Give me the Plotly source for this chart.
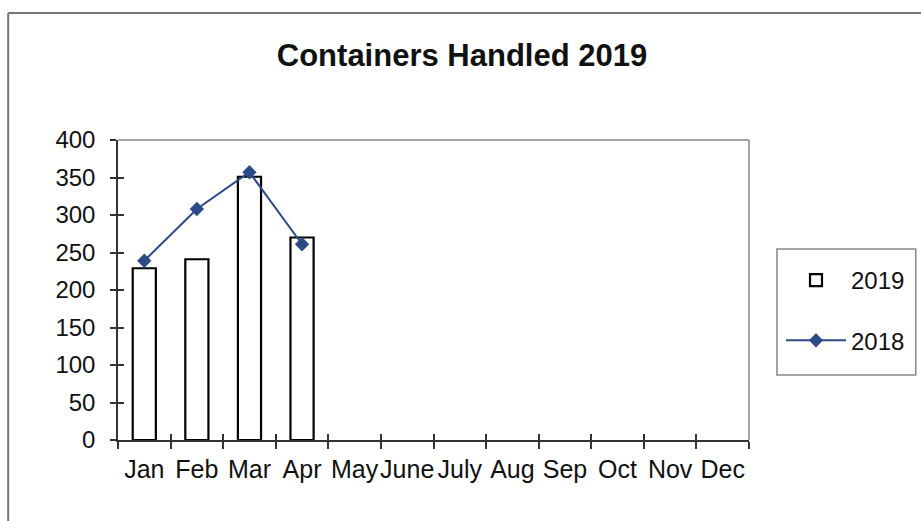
import plotly.graph_objects as go

months = ["Jan", "Feb", "Mar", "Apr", "May", "June", "July", "Aug", "Sep", "Oct", "Nov", "Dec"]
values_2019 = [229, 241, 351, 270]
values_2018 = [239, 308, 357, 261]
y_ticks = [0, 50, 100, 150, 200, 250, 300, 350, 400]

FONT = "Liberation Sans, Arial, sans-serif"
LINE_BLUE = "#2B4A86"

W, H = 921, 521
L, T = 118, 140
PW, PH = 632, 300
R, B = W - L - PW, H - T - PH


def px(sx):
    return (sx - L) / PW


def py(sy):
    return (T + PH - sy) / PH


fig = go.Figure()
fig.add_trace(go.Bar(
    x=months[:len(values_2019)], y=values_2019, name="2019",
    marker=dict(color="white", line=dict(color="black", width=2.2)),
    legendgroup="a",
))
fig.add_trace(go.Scatter(
    x=months[:len(values_2018)], y=values_2018, name="2018", mode="lines+markers",
    line=dict(color=LINE_BLUE, width=2),
    marker=dict(symbol="diamond", size=11, color=LINE_BLUE),
    legendgroup="b",
))
# invisible trace to carry the inner-tick overlay axes
fig.add_trace(go.Scatter(x=months, y=[None] * len(months), xaxis="x2", yaxis="y2",
                         showlegend=False, hoverinfo="skip", mode="lines"))

fig.update_layout(
    width=W, height=H,
    margin=dict(l=L, r=R, t=T, b=B),
    paper_bgcolor="white", plot_bgcolor="white",
    font=dict(family=FONT, size=24, color="#111"),
    title=dict(text="<b>Containers Handled 2019</b>", x=462 / W, xref="container",
               y=1 - 55 / H, yref="container", xanchor="center", yanchor="middle",
               font=dict(size=31, family=FONT, color="#111")),
    bargap=0.56,
    showlegend=True,
    legend=dict(x=px(781), y=py(258), xanchor="left", yanchor="top",
                borderwidth=0, bgcolor="rgba(0,0,0,0)",
                font=dict(size=24, family=FONT), tracegroupgap=26,
                traceorder="grouped", itemwidth=60),
    xaxis=dict(type="category", categoryorder="array", categoryarray=months,
               range=[-0.5, 11.5], showgrid=False, showline=True, linecolor="#333",
               linewidth=1.5, ticks="outside", tickson="boundaries", ticklen=7,
               tickcolor="#333", tickwidth=1.5, tickfont=dict(size=25), zeroline=False,
               tickangle=0, ticklabelstandoff=6),
    yaxis=dict(range=[0, 400], tickvals=y_ticks, showgrid=False, showline=True,
               linecolor="#333", linewidth=1.5, ticks="outside", ticklen=6,
               tickcolor="#333", tickwidth=1.5, tickfont=dict(size=24), zeroline=False,
               ticklabelstandoff=10),
    xaxis2=dict(type="category", categoryorder="array", categoryarray=months,
                range=[-0.5, 11.5], overlaying="x", showgrid=False, ticks="inside",
                tickson="boundaries", ticklen=6, tickcolor="#333", tickwidth=1.5,
                showticklabels=False, showline=False, zeroline=False, side="bottom"),
    yaxis2=dict(range=[0, 400], tickvals=y_ticks, overlaying="y", showgrid=False,
                ticks="inside", ticklen=6, tickcolor="#333", tickwidth=1.5,
                showticklabels=False, showline=False, zeroline=False, side="left"),
    shapes=[
        # plot-area top and right border
        dict(type="line", xref="paper", yref="paper", x0=0, x1=1, y0=1, y1=1,
             line=dict(color="#888", width=1.5)),
        dict(type="line", xref="paper", yref="paper", x0=1, x1=1, y0=0, y1=1,
             line=dict(color="#888", width=1.5)),
        # legend box
        dict(type="rect", xref="paper", yref="paper", x0=px(778), x1=px(917),
             y0=py(375), y1=py(249), line=dict(color="#888", width=1.5)),
        # outer chart border (top and left)
        dict(type="line", xref="paper", yref="paper", x0=px(8), x1=px(925),
             y0=py(13), y1=py(13), line=dict(color="#777", width=2)),
        dict(type="line", xref="paper", yref="paper", x0=px(8), x1=px(8),
             y0=py(530), y1=py(13), line=dict(color="#777", width=2)),
    ],
)

fig.write_html("out.html", config={"displayModeBar": False},
               post_script="document.body.style.margin='0';document.body.style.overflow='hidden';")
